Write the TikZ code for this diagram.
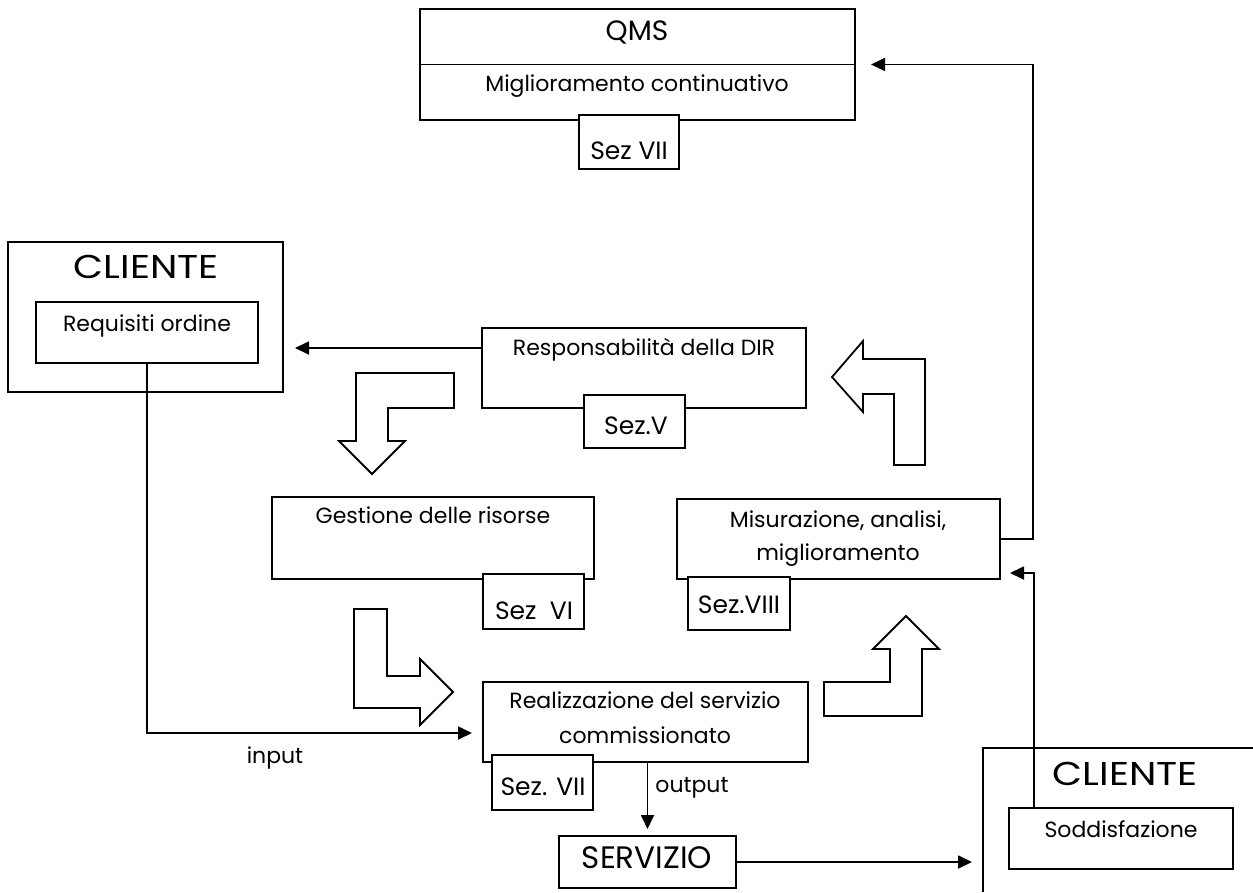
\documentclass[tikz,border=0pt]{standalone}
\usepackage{fontspec}
\setmainfont{Poppins}
\usetikzlibrary{arrows.meta}
\begin{document}
\begin{tikzpicture}[x=1pt,y=-1pt,
  box/.style={draw,line width=1.8pt,fill=white,inner sep=0pt,outer sep=0pt},
  txt/.style={inner sep=0pt,anchor=base,font=\fontsize{22}{26}\selectfont},
  sez/.style={inner sep=0pt,anchor=base,font=\fontsize{25}{29}\selectfont},
  bigtxt/.style={inner sep=0pt,anchor=base,font=\fontsize{33}{37}\selectfont},
  conn/.style={line width=1.8pt},
  arr/.style={conn,-{Triangle[length=14pt,width=13pt]}},
  blk/.style={draw,line width=1.8pt,fill=white,line join=miter}]
\useasboundingbox (0,0) rectangle (1253,892);

% main boxes
\node[box,minimum width=435pt,minimum height=111pt] (qms) at (637.5,64.5) {};
\draw[conn] (qms.west) -- (qms.east);
\node[box,minimum width=275pt,minimum height=150pt] (cli1) at (145.5,317) {};
\node[box,minimum width=222pt,minimum height=61pt] (req) at (147,332.5) {};
\node[box,minimum width=324pt,minimum height=80pt] (resp) at (644,368) {};
\node[box,minimum width=322pt,minimum height=82pt] (gest) at (433,538) {};
\node[box,minimum width=323pt,minimum height=80pt] (mis) at (838.5,539) {};
\node[box,minimum width=325pt,minimum height=80pt] (real) at (645.5,722) {};
\node[box,minimum width=177pt,minimum height=52pt] (serv) at (647.5,862) {};
\draw[conn] (1253,748) -- (983,748) -- (983,892);
\node[box,minimum width=224pt,minimum height=61pt] (sodd) at (1121,838.5) {};

% section tabs
\node[box,minimum width=100pt,minimum height=54pt] (s7a) at (629,142) {};
\node[box,minimum width=101pt,minimum height=53pt] (s5) at (634.5,421.5) {};
\node[box,minimum width=101pt,minimum height=55pt] (s6) at (533.5,601.5) {};
\node[box,minimum width=102pt,minimum height=53pt] (s8) at (739,603.5) {};
\node[box,minimum width=101pt,minimum height=55pt] (s7b) at (542.5,782.5) {};

% texts
\node[txt,font=\fontsize{28}{32}\selectfont] (tqms) at (637,40) {QMS};
\node[txt] (tmig) at (637,91) {Miglioramento continuativo};
\node[sez] (ts7a) at (629,159) {Sez VII};
\node[bigtxt] (tcli1) at (146,278) {\scalebox{1.18}[1]{CLIENTE}};
\node[txt] (treq) at (147,331) {Requisiti ordine};
\node[txt] (tresp) at (644,355) {Responsabilità della DIR};
\node[sez] (ts5) at (636,434) {Sez.V};
\node[txt] (tgest) at (433,523) {Gestione delle risorse};
\node[sez] (ts6) at (534,619) {Sez\ \ VI};
\node[txt] (tmis1) at (838,527) {Misurazione, analisi,};
\node[txt] (tmis2) at (838,560) {miglioramento};
\node[sez] (ts8) at (739,613) {Sez.VIII};
\node[txt] (treal1) at (645,708) {Realizzazione del servizio};
\node[txt] (treal2) at (645,743) {commissionato};
\node[sez] (ts7b) at (543,795) {Sez. VII};
\node[txt] (tout) at (692,792) {output};
\node[txt] (tin) at (275,763) {input};
\node[bigtxt,font=\fontsize{31}{35}\selectfont] (tserv) at (647,868) {SERVIZIO};
\node[bigtxt] (tcli2) at (1125,785) {\scalebox{1.18}[1]{CLIENTE}};
\node[txt] (tsodd) at (1121,837) {Soddisfazione};

% block arrows
\draw[blk] (356,373) -- (454,373) -- (454,408) -- (388,408) -- (388,441) -- (405,441) -- (372,474) -- (339,441) -- (356,441) -- cycle;
\draw[blk] (354,609) -- (387,609) -- (387,676) -- (420,676) -- (420,659) -- (453,692) -- (420,725) -- (420,708) -- (354,708) -- cycle;
\draw[blk] (824,716) -- (922,716) -- (922,649) -- (939,649) -- (906,616) -- (873,649) -- (890,649) -- (890,682) -- (824,682) -- cycle;
\draw[blk] (925,465) -- (925,359) -- (863,359) -- (863,341) -- (832,377) -- (863,412) -- (863,394) -- (894,394) -- (894,465) -- cycle;

% connectors
\coordinate (qin) at (871,64.5);
\coordinate (clin) at (295,348);
\coordinate (realin) at (472,733);
\coordinate (misin) at (1010,573);
\coordinate (cli2in) at (972,862);
\coordinate (servin) at (647.5,829);
\draw[arr] (mis.east) -- ++(33,0) |- (qin);
\draw[arr] ([xshift=25pt]sodd.north west) |- (misin);
\draw[arr] (resp.west |- clin) -- (clin);
\draw[arr] (req.south) |- (realin);
\draw[arr] (real.south -| servin) -- (servin);
\draw[arr] (serv.east) -- (cli2in);
\end{tikzpicture}
\end{document}
